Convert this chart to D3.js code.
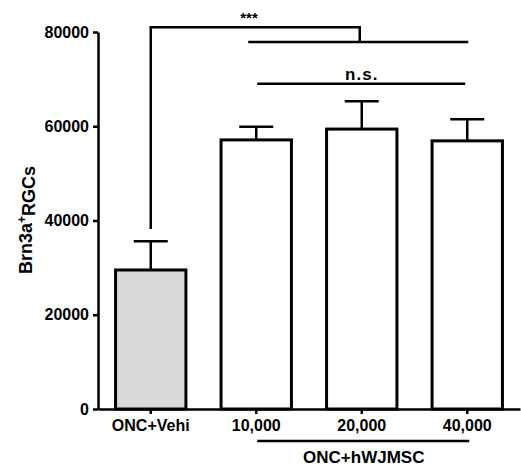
<!DOCTYPE html>
<html>
<head>
<meta charset="utf-8">
<script src="https://cdn.jsdelivr.net/npm/d3@7"></script>
<style>
	body { margin: 0; background: #fff; }
	svg text { font-family: "Liberation Sans", Arial, sans-serif; font-weight: bold; fill: #000; }
	.axis path, .axis line { stroke: #000; stroke-width: 2.5; }
	.axis text { font-size: 16px; }
</style>
</head>
<body>
<svg id="chart" width="521" height="466"></svg>
<script>
// values
var categories = ["ONC+Vehi", "10,000", "20,000", "40,000"];
var means = [29500, 57100, 59400, 56900];
var errors = [6100, 2800, 5900, 4600];
var yTicks = [0, 20000, 40000, 60000, 80000];
var groupLabel = "ONC+hWJMSC";

var svg = d3.select("#chart");

var x = d3.scaleBand()
	.domain(categories)
	.range([98, 520])
	.paddingInner(0.333)
	.paddingOuter(0.1665);

var y = d3.scaleLinear()
	.domain([0, 80000])
	.range([409, 32]);

var cx = function(c) { return x(c) + x.bandwidth() / 2; };

// axes
svg.append("g")
	.attr("class", "axis")
	.attr("transform", "translate(98,0)")
	.call(d3.axisLeft(y).tickValues(yTicks).tickSize(5).tickSizeOuter(0).tickPadding(4).tickFormat(d3.format("d")));

svg.append("g")
	.attr("class", "axis")
	.attr("transform", "translate(0,409)")
	.call(d3.axisBottom(x).tickSize(5).tickSizeOuter(0).tickPadding(6));

// error bars (upper only)
var err = svg.append("g").attr("stroke", "#000").attr("stroke-width", 2.5);
categories.forEach(function(c, i) {
	err.append("line")
		.attr("x1", cx(c)).attr("x2", cx(c))
		.attr("y1", y(means[i])).attr("y2", y(means[i] + errors[i]));
	err.append("line")
		.attr("x1", cx(c) - 17).attr("x2", cx(c) + 17)
		.attr("y1", y(means[i] + errors[i])).attr("y2", y(means[i] + errors[i]));
});

// bars
svg.append("g").selectAll("rect")
	.data(categories)
	.enter().append("rect")
	.attr("x", function(d) { return x(d); })
	.attr("y", function(d, i) { return y(means[i]); })
	.attr("width", x.bandwidth())
	.attr("height", function(d, i) { return y(0) - y(means[i]); })
	.attr("fill", function(d, i) { return i == 0 ? "#d9d9d9" : "#fff"; })
	.attr("stroke", "#000")
	.attr("stroke-width", 3);

// significance brackets
var br = svg.append("g").attr("stroke", "#000").attr("stroke-width", 2.5).attr("fill", "none");
var topY = y(81000), midY = y(77900), nsY = y(69000);
var leftX = cx(categories[0]), midX = cx(categories[2]);

br.append("path")
	.attr("d", "M" + leftX + "," + y(38200) + "V" + topY + "H" + (midX - 2) + "V" + midY);
br.append("line")
	.attr("x1", cx(categories[1]) - 8).attr("x2", cx(categories[3]) + 1)
	.attr("y1", midY).attr("y2", midY);
br.append("line")
	.attr("x1", cx(categories[1]) + 1).attr("x2", cx(categories[3]) - 2)
	.attr("y1", nsY).attr("y2", nsY);

svg.append("text")
	.attr("x", 249).attr("y", topY - 4)
	.attr("text-anchor", "middle")
	.style("font-size", "15px")
	.text("***");

svg.append("text")
	.attr("x", midX).attr("y", nsY - 4)
	.attr("text-anchor", "middle")
	.style("font-size", "17px")
	.style("letter-spacing", "1px")
	.text("n.s.");

// group label under the treated bars
svg.append("line")
	.attr("x1", cx(categories[1]) + 1).attr("x2", cx(categories[3]) + 2)
	.attr("y1", 441).attr("y2", 441)
	.attr("stroke", "#000").attr("stroke-width", 2.5);

svg.append("text")
	.attr("x", midX + 2).attr("y", 463)
	.attr("text-anchor", "middle")
	.style("font-size", "17px")
	.text(groupLabel);

// y axis title
var yt = svg.append("text")
	.attr("transform", "translate(32,220) rotate(-90)")
	.attr("text-anchor", "middle")
	.style("font-size", "18px");
yt.append("tspan").text("Brn3a");
yt.append("tspan").attr("dy", "-0.5em").style("font-size", "12px").text("+");
yt.append("tspan").attr("dy", "0.5em").text("RGCs");
</script>
</body>
</html>
